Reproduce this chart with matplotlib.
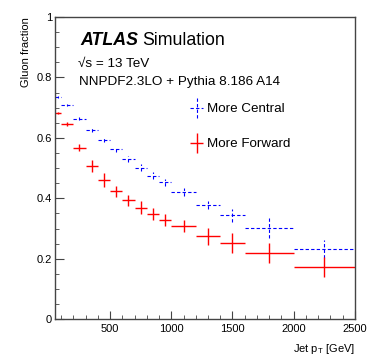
import numpy as np
import matplotlib
matplotlib.use('Agg')
import matplotlib.pyplot as plt
from matplotlib.container import ErrorbarContainer
from matplotlib.legend_handler import HandlerErrorbar

plt.rcParams['font.family'] = ['Liberation Sans', 'DejaVu Sans']

# bin edges in jet pT [GeV]
edges = [50, 100, 200, 300, 400, 500, 600, 700, 800, 900, 1000,
         1200, 1400, 1600, 2000, 2500]

central = [0.735, 0.710, 0.664, 0.626, 0.593, 0.562, 0.530, 0.501,
           0.475, 0.453, 0.421, 0.378, 0.344, 0.301, 0.232]
central_err = [0.003, 0.003, 0.005, 0.007, 0.008, 0.009, 0.010, 0.011,
               0.012, 0.012, 0.013, 0.014, 0.022, 0.033, 0.030]

forward = [0.682, 0.646, 0.568, 0.507, 0.461, 0.423, 0.394, 0.369,
           0.348, 0.328, 0.307, 0.275, 0.253, 0.219, 0.173]
forward_err = [0.004, 0.006, 0.013, 0.019, 0.022, 0.019, 0.018, 0.021,
               0.021, 0.020, 0.020, 0.028, 0.033, 0.034, 0.032]

edges = np.array(edges)
centers = (edges[1:] + edges[:-1]) / 2
half = (edges[1:] - edges[:-1]) / 2

fig = plt.figure(figsize=(3.74, 3.55), dpi=100)
ax = fig.add_axes([0.147, 0.101, 0.802, 0.851])

eb_c = ax.errorbar(centers, central, xerr=half, yerr=central_err, fmt='none',
                   ecolor='#0000ff', elinewidth=0.8, label='More Central')
for lc in eb_c[2]:
    lc.set_linestyle((0, (3, 2)))
eb_f = ax.errorbar(centers, forward, xerr=half, yerr=forward_err, fmt='none',
                   ecolor='#ff0000', elinewidth=1.0, label='More Forward')

ax.set_xlim(50, 2500)
ax.set_ylim(0, 1)
ax.set_xticks([500, 1000, 1500, 2000, 2500])
ax.set_xticks(np.arange(100, 2500, 100), minor=True)
ax.set_yticks([0, 0.2, 0.4, 0.6, 0.8, 1])
ax.set_yticklabels(['0', '0.2', '0.4', '0.6', '0.8', '1'])
ax.set_yticks(np.arange(0.05, 1, 0.05), minor=True)
ax.tick_params(axis='both', which='both', direction='in', labelsize=8,
               color='#444444')
ax.tick_params(axis='x', which='major', length=5.5, pad=3.5)
ax.tick_params(axis='x', which='minor', length=2.7)
ax.tick_params(axis='y', which='major', length=6.5, pad=2)
ax.tick_params(axis='y', which='minor', length=3.2)
for s in ax.spines.values():
    s.set_color('#444444')
    s.set_linewidth(1.0)

ax.set_ylabel('Gluon fraction', fontsize=8, loc='top')
ax.yaxis.set_label_coords(-0.081, 1.0)
ax.set_xlabel('Jet p$_\\mathregular{T}$ [GeV]', fontsize=8, loc='right')
ax.xaxis.set_label_coords(1.0, -0.075)

ax.text(0.083, 0.907, 'ATLAS', transform=ax.transAxes, fontsize=12.8,
        fontweight='bold', fontstyle='italic')
ax.text(0.292, 0.907, 'Simulation', transform=ax.transAxes, fontsize=12.8)
ax.text(0.077, 0.835, '\u221as = 13 TeV', transform=ax.transAxes, fontsize=9.7)
ax.text(0.080, 0.775, 'NNPDF2.3LO + Pythia 8.186 A14', transform=ax.transAxes,
        fontsize=9.7)

leg = ax.legend(handles=[eb_c, eb_f], loc='upper left',
                bbox_to_anchor=(0.45, 0.715), frameon=False, fontsize=9.6,
                handlelength=1.0, handletextpad=0.3, labelspacing=1.68,
                borderpad=0, borderaxespad=0,
                handler_map={ErrorbarContainer: HandlerErrorbar(xerr_size=0.5, yerr_size=0.75)})

fig.savefig('out.png', dpi=100)
